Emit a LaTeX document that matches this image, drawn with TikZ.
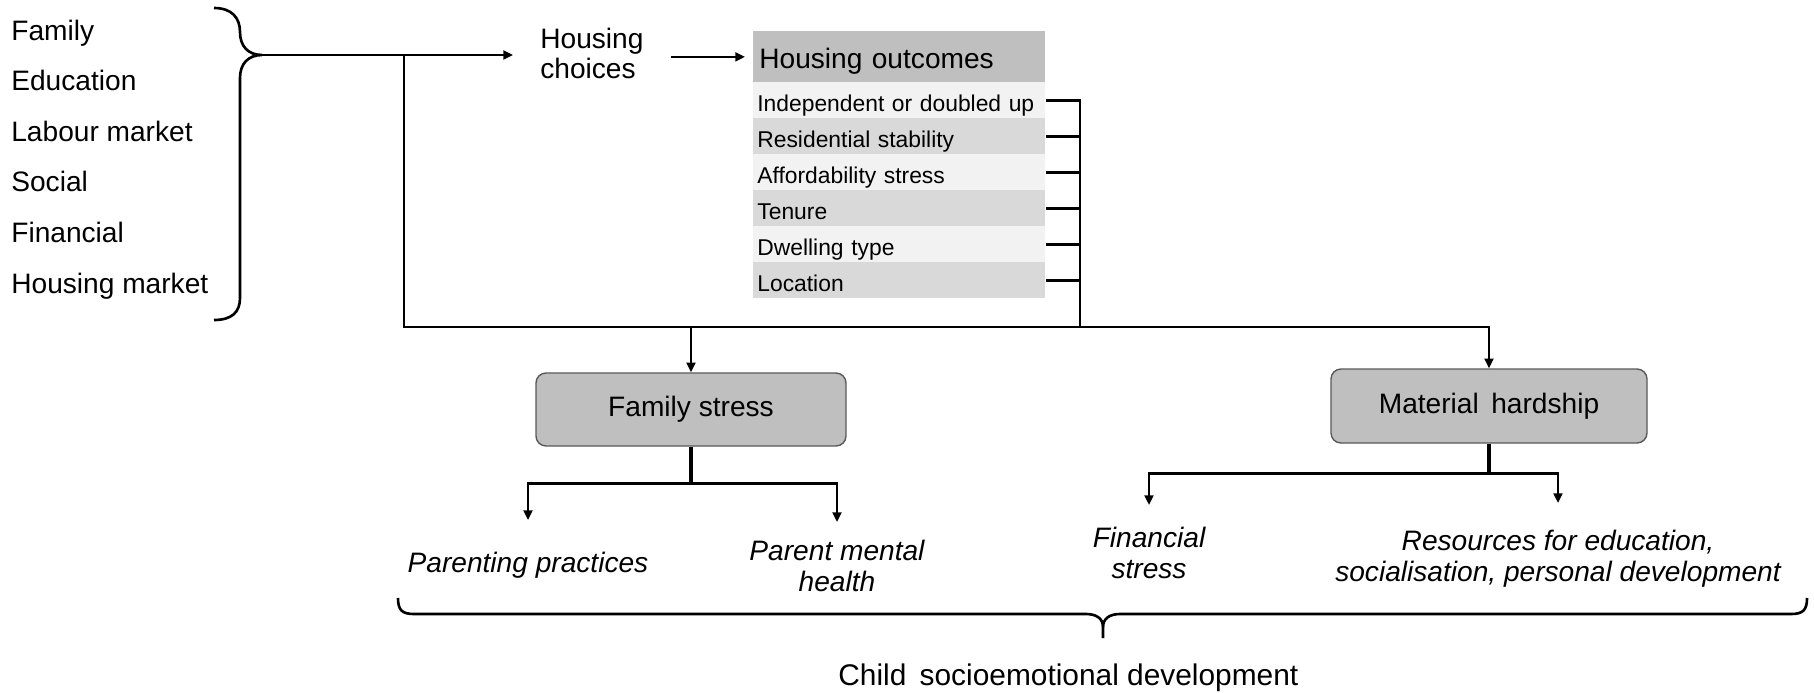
\documentclass[tikz,border=0pt]{standalone}
\usepackage{fontspec}
\setmainfont{Liberation Sans}
\usetikzlibrary{arrows.meta,positioning,calc}
\definecolor{hdrgray}{HTML}{BFBFBF}
\definecolor{rowlight}{HTML}{F2F2F2}
\definecolor{rowdark}{HTML}{D9D9D9}
\definecolor{boxedge}{HTML}{595959}
\tikzset{
  conn/.style={line width=1.5pt},
  stem/.style={line width=2.2pt},
  arr/.style={line width=1.4pt,-{Triangle[length=5.5pt,width=5pt]}},
  factor/.style={anchor=base west,inner sep=0pt,font=\fontsize{16}{18}\selectfont},
  mech/.style={draw=boxedge,line width=0.8pt,fill=hdrgray,rounded corners=2mm,
    font=\fontsize{16}{18}\selectfont},
  outcomerow/.style={anchor=north west,text width=56.8mm,inner xsep=0.8mm,inner ysep=0pt,
    minimum height=7.2mm,text height=4.4mm,text depth=0pt,align=left,
    font=\fontsize{13}{15}\selectfont},
  effect/.style={anchor=north,inner sep=0pt,align=center,
    font=\fontsize{16}{17.6}\selectfont\itshape},
}
\begin{document}
\begin{tikzpicture}[x=0.2mm,y=-0.2mm]
\useasboundingbox (0,0) rectangle (1814,692);
% ---- drivers ----
\foreach \txt [count=\i from 0] in {Family,Education,Labour market,Social,Financial,Housing market}
  \node[factor] (f\i) at (11,{40+50.6*\i}) {\txt};
\coordinate (bt) at (262,55);
\draw[conn] (214,8) .. controls (232,8) and (240,18) .. (240,32)
  .. controls (240,46) and (248,55) .. (bt)
  .. controls (248,55) and (240,64) .. (240,78) -- (240,298)
  .. controls (240,312) and (232,320) .. (214,320);
% ---- housing ----
\node[anchor=north west,inner sep=0pt,align=left,font=\fontsize{16}{17}\selectfont]
  (hc) at (540,27.5) {Housing\\choices};
\node[anchor=north west,fill=hdrgray,text width=56mm,inner xsep=1.2mm,inner ysep=0pt,
  minimum height=10.2mm,text height=4.6mm,text depth=0pt,align=left,
  font=\fontsize{16}{18}\selectfont] (ho) at (753,31) {Housing outcomes};
\foreach \txt/\col [count=\i] in {Independent or doubled up/rowlight,Residential stability/rowdark,
    Affordability stress/rowlight,Tenure/rowdark,Dwelling type/rowlight,Location/rowdark}
  \node[outcomerow,fill=\col] (r\i) at (753,{46+36*\i}) {\txt};
\draw[arr,shorten >=5.4mm] (bt) -- (bt -| hc.west);
\draw[arr,shorten <=5.4mm,shorten >=1.6mm] (hc.east |- ho.west) -- (ho.west);
% ---- pathways ----
\node[mech,minimum width=62mm,minimum height=14.6mm] (fs) at (691,409.5) {Family stress};
\node[mech,minimum width=63.2mm,minimum height=14.8mm] (mh) at (1489,406) {Material\, hardship};
\coordinate (jt) at (404,55);
\coordinate (jb) at (404,327);
\coordinate (bx) at (1080,327);
\draw[arr] (jt) -- (jb) -| (mh.north);
\draw[arr] (jb -| fs.north) -- (fs.north);
\draw[conn] (r1.east) -| (bx);
\foreach \i in {2,...,6}
  \draw[conn] (r\i.east) -- (r\i.east -| bx);
% ---- effects ----
\node[effect] (pp) at (528,552) {Parenting practices};
\node[effect] (pm) at (837,539.5) {Parent mental\\health};
\node[effect] (fin) at (1149,526.5) {Financial\\stress};
\node[effect] (res) at (1558,529.5) {Resources for education,\\socialisation, personal development};
\path (fs.south) ++(0,37) coordinate (fsb);
\path (mh.south) ++(0,30) coordinate (mhb);
\draw[stem] (fs.south) -- (fsb);
\draw[stem] (mh.south) -- (mhb);
\draw[arr,shorten >=6.4mm] (fsb) -| (pp.north);
\draw[arr,shorten >=3.5mm] (fsb) -| (pm.north);
\draw[arr,shorten >=4.3mm] (mhb) -| (fin.north);
\draw[arr,shorten >=5.3mm] (mhb) -| (res.north);
% ---- child outcome ----
\coordinate (ct) at (1103,638);
\draw[conn] (398,598) .. controls (398,610) and (402,614) .. (414,614) -- (1086,614)
  .. controls (1097,614) and (1103,619) .. (1103,627) -- (ct);
\draw[conn] (1807,598) .. controls (1807,610) and (1803,614) .. (1791,614) -- (1120,614)
  .. controls (1109,614) and (1103,619) .. (1103,627);
\node[anchor=base west,inner sep=0pt,font=\fontsize{17}{20}\selectfont] (csd) at (838,685)
  {Child\, socioemotional development};
\end{tikzpicture}
\end{document}
